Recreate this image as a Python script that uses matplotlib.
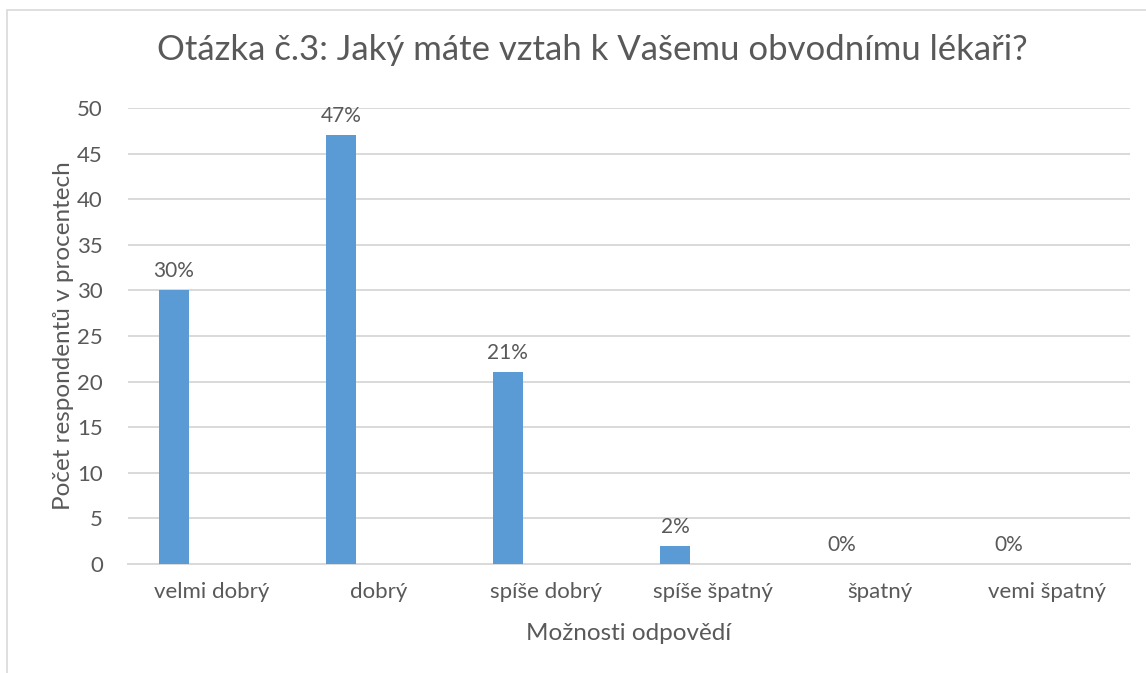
import matplotlib.pyplot as plt
import numpy as np

# Odpovědi a podíl respondentů (%)
categories = ['velmi dobrý', 'dobrý', 'spíše dobrý', 'spíše špatný', 'špatný', 'vemi špatný']
values = [30, 47, 21, 2, 0, 0]
labels = ['30%', '47%', '21%', '2%', '0%', '0%']

text_color = '#595959'
bar_color = '#5b9bd5'
grid_color = '#d9d9d9'

plt.rcParams['font.family'] = ['Lato', 'DejaVu Sans']

fig = plt.figure(figsize=(11.46, 6.73), dpi=100)
ax = fig.add_axes([128 / 1146, 1 - 564 / 673, (1130 - 128) / 1146, (564 - 108) / 673])

# outer chart border
fig.patches.append(plt.Rectangle((7 / 1146, -0.01), 1.0, 1 - 10 / 673 + 0.01,
                                 transform=fig.transFigure, fill=False,
                                 edgecolor='#d9d9d9', linewidth=1.2))

x = np.arange(len(categories))
offset = -0.225
bars = ax.bar(x + offset, values, width=0.18, color=bar_color, zorder=3)

for xi, v, lab in zip(x, values, labels):
    ax.text(xi + offset, v + 1.0, lab, ha='center', va='bottom',
            fontsize=15, color=text_color)

ax.set_xlim(-0.5, len(categories) - 0.5)
ax.set_ylim(0, 50)
ax.set_yticks(np.arange(0, 51, 5))
ax.set_xticks(x)
ax.set_xticklabels(categories)
ax.tick_params(axis='both', length=0, labelsize=16, colors=text_color)
ax.tick_params(axis='x', pad=13)
ax.tick_params(axis='y', pad=18)

ax.yaxis.grid(True, color=grid_color, linewidth=1.4, zorder=0)
for s in ['top', 'right', 'left']:
    ax.spines[s].set_visible(False)
ax.spines['bottom'].set_color(grid_color)
ax.spines['bottom'].set_linewidth(1.4)

ax.set_xlabel('Možnosti odpovědí', fontsize=17.5, color=text_color, labelpad=15)
ax.set_ylabel('Počet respondentů v procentech', fontsize=17.5, color=text_color, labelpad=2)

fig.text(592 / 1146, 1 - 50 / 673, 'Otázka č.3: Jaký máte vztah k Vašemu obvodnímu lékaři?',
         ha='center', va='center', fontsize=25, color=text_color)

fig.savefig('out.png', dpi=100)
